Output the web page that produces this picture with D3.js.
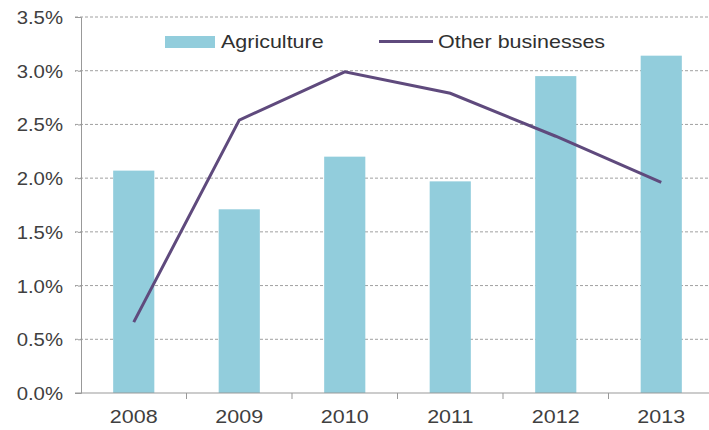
<!DOCTYPE html>
<html>
<head>
<meta charset="utf-8">
<script src="https://cdn.jsdelivr.net/npm/d3@7"></script>
<style>
  body { margin: 0; background: #fff; }
  svg { display: block; font-family: "Liberation Sans", Arial, sans-serif; }
</style>
</head>
<body>
<div id="chart"></div>
<script>
var years = ['2008', '2009', '2010', '2011', '2012', '2013'];
var agriculture = [2.07, 1.71, 2.20, 1.97, 2.95, 3.14];
var otherBusinesses = [0.66, 2.54, 2.99, 2.79, 2.39, 1.96];
var yTicks = [0, 0.5, 1.0, 1.5, 2.0, 2.5, 3.0, 3.5];

var width = 709, height = 430;
var margin = {top: 17, right: -5, bottom: 37, left: 81};
var textStretch = 1.13;

var svg = d3.select('#chart')
    .append('svg')
    .attr('width', width)
    .attr('height', height);

// the source picture has slightly wide lettering, stretch text to match
var stretchText = function (sel) {
    sel.each(function () {
        var w = this.getComputedTextLength();
        d3.select(this)
            .attr('textLength', w * textStretch)
            .attr('lengthAdjust', 'spacingAndGlyphs');
    });
};

var x = d3.scaleBand()
    .domain(years)
    .range([margin.left, width - margin.right])
    .paddingInner(0.61)
    .paddingOuter(0.305);

var y = d3.scaleLinear()
    .domain([0, 3.5])
    .range([height - margin.bottom, margin.top]);

// gridlines
svg.append('g')
    .selectAll('line')
    .data(yTicks.slice(1))
    .enter()
    .append('line')
    .attr('x1', margin.left - 6)
    .attr('x2', width)
    .attr('y1', function (d) { return y(d); })
    .attr('y2', function (d) { return y(d); })
    .attr('stroke', '#a0a0a0')
    .attr('stroke-width', 1)
    .attr('stroke-dasharray', '3,2');

// bars
svg.append('g')
    .selectAll('rect')
    .data(agriculture)
    .enter()
    .append('rect')
    .attr('x', function (d, i) { return x(years[i]); })
    .attr('width', x.bandwidth())
    .attr('y', function (d) { return y(d); })
    .attr('height', function (d) { return y(0) - y(d); })
    .attr('fill', '#92cddc');

// y axis
var yAxis = d3.axisLeft(y)
    .tickValues(yTicks)
    .tickFormat(function (d) { return d.toFixed(1) + '%'; })
    .tickSize(6)
    .tickPadding(12);

var yg = svg.append('g')
    .attr('transform', 'translate(' + margin.left + ',0)')
    .call(yAxis);
yg.select('.domain').attr('stroke', '#999');
yg.selectAll('.tick line').attr('stroke', '#999').attr('stroke-dasharray', '3,2');
yg.selectAll('.tick text')
    .attr('fill', '#404040')
    .attr('dy', '0.36em')
    .style('font-size', '18px')
    .call(stretchText);

// x axis
var xg = svg.append('g')
    .attr('transform', 'translate(0,' + y(0) + ')');
xg.append('line')
    .attr('x1', margin.left - 6)
    .attr('x2', width)
    .attr('stroke', '#999');
xg.selectAll('.xtick')
    .data(years.slice(1))
    .enter()
    .append('line')
    .attr('x1', function (d) { return x(d) - x.step() * x.paddingInner() / 2; })
    .attr('x2', function (d) { return x(d) - x.step() * x.paddingInner() / 2; })
    .attr('y1', 0)
    .attr('y2', 6)
    .attr('stroke', '#999');
xg.selectAll('.xlabel')
    .data(years)
    .enter()
    .append('text')
    .attr('x', function (d) { return x(d) + x.bandwidth() / 2; })
    .attr('y', 30)
    .attr('text-anchor', 'middle')
    .attr('fill', '#404040')
    .style('font-size', '19px')
    .text(function (d) { return d; })
    .call(stretchText);

// line
var line = d3.line()
    .x(function (d, i) { return x(years[i]) + x.bandwidth() / 2; })
    .y(function (d) { return y(d); });

svg.append('path')
    .datum(otherBusinesses)
    .attr('d', line)
    .attr('fill', 'none')
    .attr('stroke', '#5f4a7d')
    .attr('stroke-width', 3);

// legend
var legend = svg.append('g');
legend.append('rect')
    .attr('x', 165).attr('y', 36)
    .attr('width', 50).attr('height', 12)
    .attr('fill', '#92cddc');
legend.append('text')
    .attr('x', 221).attr('y', 48)
    .attr('fill', '#303030')
    .style('font-size', '19px')
    .text('Agriculture')
    .call(stretchText);
legend.append('line')
    .attr('x1', 379).attr('x2', 433)
    .attr('y1', 41.5).attr('y2', 41.5)
    .attr('stroke', '#5f4a7d')
    .attr('stroke-width', 3);
legend.append('text')
    .attr('x', 438).attr('y', 48)
    .attr('fill', '#303030')
    .style('font-size', '19px')
    .text('Other businesses')
    .call(stretchText);
</script>
</body>
</html>
